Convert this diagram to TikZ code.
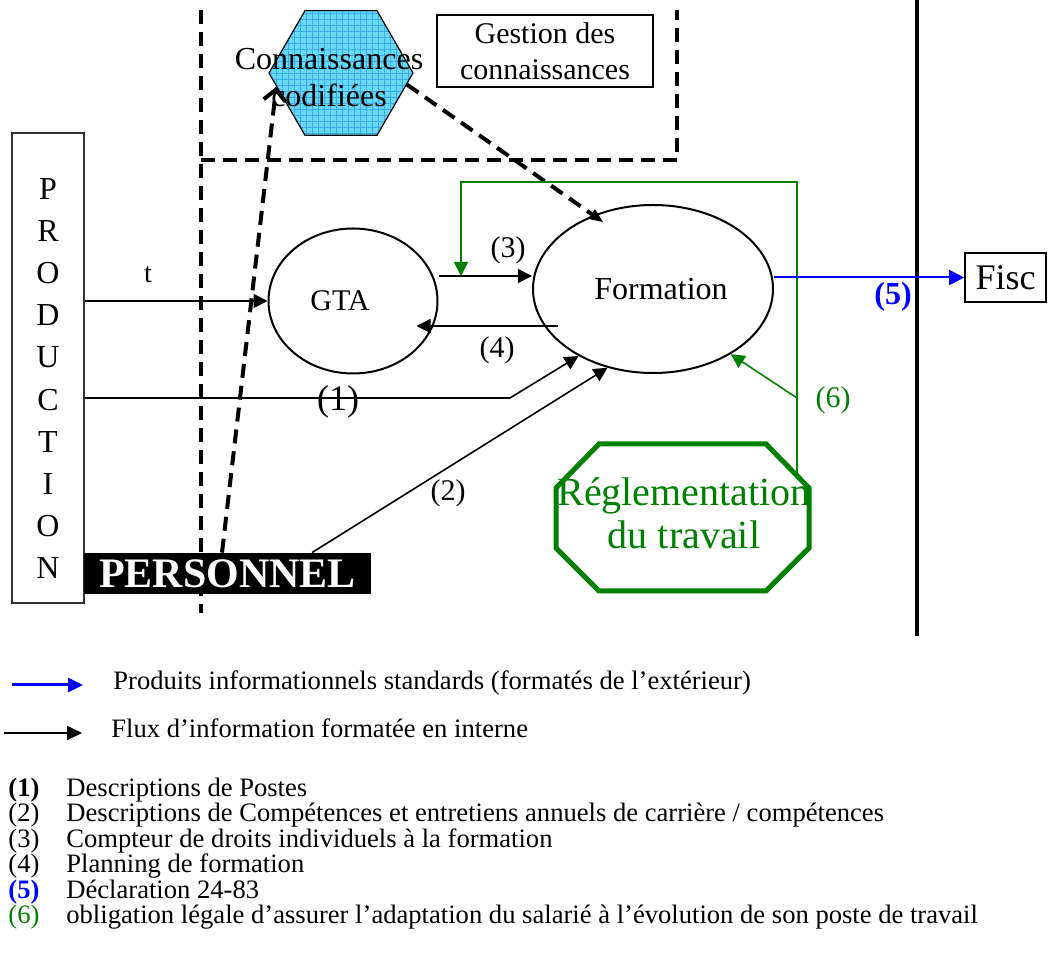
\documentclass[tikz,border=0pt]{standalone}
\usepackage{fontspec}
\setmainfont{Liberation Serif}
\usepackage{xcolor}
\usepackage{tikz}
\usetikzlibrary{arrows.meta,shapes.geometric,patterns}
\definecolor{vert}{RGB}{0,128,0}
\definecolor{bleu}{RGB}{0,0,255}
\definecolor{hexfill}{RGB}{102,217,245}
\definecolor{hexgrid}{RGB}{60,170,235}

\begin{document}
\begin{tikzpicture}[x=0.5pt,y=0.5pt]
        \tikzstyle{every node}+=[inner sep=0pt]
        \tikzstyle{flow}=[draw=black, line width=0.8pt, -{Triangle[length=7pt,width=7pt]}]
        \tikzstyle{legal}=[draw=vert, line width=0.8pt, -{Triangle[length=7pt,width=7pt]}]
        \tikzstyle{std}=[draw=bleu, line width=1pt, -{Triangle[length=7.5pt,width=7.5pt]}]
        \tikzstyle{kmdash}=[line width=2pt, dash pattern=on 7pt off 4pt]
        \tikzstyle{entity}=[draw, ellipse, line width=1pt]
        \tikzstyle{box}=[draw, line width=0.8pt, align=center]
        \tikzstyle{hexa}=[regular polygon, regular polygon sides=6, minimum size=72pt, draw, line width=0.6pt, preaction={fill=hexfill}, pattern=grid, pattern color=hexgrid]
        \tikzstyle{num}=[font=\fontsize{15}{18}\selectfont]
        \tikzstyle{legend}=[anchor=west, text height=9pt, text depth=2.5pt, font=\fontsize{13.3}{15}\selectfont]
        \useasboundingbox (0,0) rectangle (1050,-967);
        \draw [kmdash] (201,-10) -- (201,-613);
        \draw [kmdash] (201,-160) -- (677,-160) -- (677,-10);
        \draw [line width=2pt] (917,0) -- (917,-636);
        \node [hexa] (hex) at (341,-73) {};
        \node [align=center, font=\fontsize{16}{18.5}\selectfont] (hextxt) at (329,-78) {Connaissances\\codifiées};
        \node [box, minimum width=108pt, minimum height=36pt, font=\fontsize{15}{18}\selectfont] (gest) at (545,-51) {Gestion des\\connaissances};
        \node [box, draw=black!80, line width=0.7pt, minimum width=36pt, minimum height=235pt, font=\fontsize{16}{21.1}\selectfont] (prod) at (48,-368) {\rule{0pt}{21pt}P\\R\\O\\D\\U\\C\\T\\I\\O\\N};
        \node [fill=black, text=white, minimum width=143.5pt, minimum height=20.5pt, font=\fontsize{21}{21}\selectfont\bfseries] (pers) at (227.5,-573.5) {PERSONNEL};
        \node [entity, minimum width=84.5pt, minimum height=72.5pt, font=\fontsize{15}{18}\selectfont] (gta) at (353,-301) {GTA\kern13pt};
        \node [entity, minimum width=120pt, minimum height=84pt, font=\fontsize{16}{19}\selectfont] (form) at (653,-289) {\hspace{8pt}Formation};
        \node [box, minimum width=40.5pt, minimum height=24.5pt, font=\fontsize{18}{20}\selectfont] (fisc) at (1005.5,-277.5) {Fisc};
        \draw [draw=vert, line width=2.5pt] (599,-444) -- (766,-444) -- (809,-488) -- (809,-548) -- (766,-591) -- (599,-591) -- (556,-548) -- (556,-488) -- cycle;
        \node [text=vert, align=center, font=\fontsize{20}{21.5}\selectfont] (reg) at (684,-513) {Réglementation\\du travail};
        \draw [kmdash, -{Straight Barb[length=5.5pt,width=11pt]}] ([xshift=-2.75pt]pers.north) -- (hex.192);
        \draw [kmdash, -{Triangle[length=7pt,width=6pt,line width=0pt]}, shorten >=-6pt] (hex.350) -- (form.129);
        \draw [flow] (prod.east |- gta.west) -- (gta.west);
        \draw (148,-275) node [font=\fontsize{14}{16}\selectfont] {t};
        \coordinate (s3) at ([yshift=12.5pt]gta.east);
        \draw [flow] (s3) -- (s3 -| form.west);
        \draw (508,-250) node [num] {(3)};
        \coordinate (s4) at (558,-326);
        \draw [flow, shorten >=-11pt] (s4) -- (s4 -| gta.east);
        \draw (497,-350) node [num] {(4)};
        \coordinate (b1) at (510,-398);
        \draw [flow] (prod.east |- b1) -- (b1) -- (form.222);
        \draw (338,-402) node [font=\fontsize{18}{20}\selectfont] {(1)};
        \draw [flow] ([xshift=42.25pt]pers.north) -- (form.240);
        \draw (448,-493) node [num] {(2)};
        \coordinate (regtop) at (797,-474);
        \coordinate (g3) at (461,-276);
        \draw [legal] (regtop) |- ([yshift=47pt]g3) -- (g3);
        \coordinate (g6) at (797,-398);
        \draw [legal] (g6) -- (form.320);
        \draw (833,-400) node [num, text=vert] {(6)};
        \draw [std] (form.east |- fisc.west) -- (fisc.west);
        \draw (893,-297) node [font=\fontsize{16}{18}\selectfont\bfseries, text=bleu] {(5)};
        \node [legend] (legstd) at (113,-683) {Produits informationnels standards (formatés de l’extérieur)};
        \draw [draw=bleu, line width=1.5pt, -{Triangle[length=7.5pt,width=7pt]}] ([xshift=-50.5pt,yshift=-1pt]legstd.west) -- ([xshift=-15pt,yshift=-1pt]legstd.west);
        \node [legend] (legint) at (111,-731) {Flux d’information formatée en interne};
        \draw [line width=1pt, -{Triangle[length=7.5pt,width=7pt]}] ([xshift=-53.5pt,yshift=-1pt]legint.west) -- ([xshift=-14.5pt,yshift=-1pt]legint.west);
        \node [legend] (k1) at (8,-790) {\textbf{(1)}};
        \node [legend] (t1) at (66,-790) {Descriptions de Postes};
        \node [legend] (k2) at (8,-815) {(2)};
        \node [legend] (t2) at (66,-815) {Descriptions de Compétences et entretiens annuels de carrière / compétences};
        \node [legend] (k3) at (8,-841) {(3)};
        \node [legend] (t3) at (66,-841) {Compteur de droits individuels à la formation};
        \node [legend] (k4) at (8,-866) {(4)};
        \node [legend] (t4) at (66,-866) {Planning de formation};
        \node [legend, text=bleu] (k5) at (8,-892) {\textbf{(5)}};
        \node [legend] (t5) at (66,-892) {Déclaration 24-83};
        \node [legend, text=vert] (k6) at (8,-917) {(6)};
        \node [legend] (t6) at (66,-917) {obligation légale d’assurer l’adaptation du salarié à l’évolution de son poste de travail};
        \end{tikzpicture}
\end{document}
